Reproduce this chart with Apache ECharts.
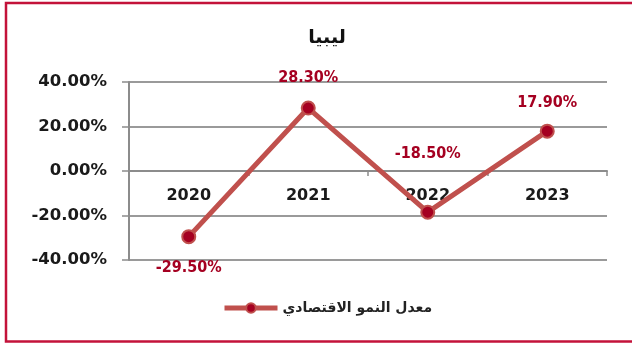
<!DOCTYPE html>
<html>
<head>
<meta charset="utf-8">
<script src="https://cdn.jsdelivr.net/npm/echarts@6/dist/echarts.min.js"></script>
<style>
  html, body { margin: 0; padding: 0; background: #fff; }
  #chart { width: 632px; height: 343px; }
</style>
</head>
<body>
<div id="chart"></div>
<script>
// Libya: annual economic growth rate (%)
const years = ['2020', '2021', '2022', '2023'];
const growthRate = [-29.5, 28.3, -18.5, 17.9];
const yTicks = [-40, -20, 0, 20, 40];
const chartTitle = 'ليبيا';
const seriesName = 'معدل النمو الاقتصادي';

// label placement for each point (above or below the marker)
const labelPlacement = [
  { position: 'bottom', distance: 16 },
  { position: 'top', distance: 15 },
  { position: 'top', distance: 43 },
  { position: 'top', distance: 13 }
];

const AXIS_FONT = '"DejaVu Sans", sans-serif';
const LABEL_FONT = '"DejaVu Sans Condensed", "DejaVu Sans", sans-serif';
const LABEL_RED = '#A50021';
const LINE_RED = '#C0504D';

const GRID_TOP = 82, GRID_BOTTOM = 83, PLOT_H = 343 - GRID_TOP - GRID_BOTTOM;
// the category axis sits on the zero line of the value axis
const zeroOffset = -PLOT_H * (0 - yTicks[0]) / (yTicks[yTicks.length - 1] - yTicks[0]);

const chart = echarts.init(document.getElementById('chart'), null, { renderer: 'canvas' });

chart.setOption({
  backgroundColor: '#ffffff',
  animation: false,
  title: {
    text: chartTitle,
    left: 322,
    top: 24,
    textAlign: 'center',
    textStyle: { fontFamily: AXIS_FONT, fontWeight: 'bold', fontSize: 19, color: '#111' }
  },
  grid: { left: 129, right: 25, top: GRID_TOP, bottom: GRID_BOTTOM, containLabel: false },
  legend: {
    left: 217,
    top: 296,
    itemWidth: 53,
    itemHeight: 12,
    itemGap: 10,
    lineStyle: { width: 5, color: LINE_RED },
    textStyle: { fontFamily: AXIS_FONT, fontWeight: 'bold', fontSize: 14, color: '#222' },
    data: [seriesName]
  },
  xAxis: {
    type: 'category',
    data: years,
    boundaryGap: true,
    position: 'bottom',
    offset: zeroOffset,
    axisLine: { onZero: false, lineStyle: { color: '#8c8c8c', width: 2 } },
    axisTick: { show: true, alignWithLabel: false, length: 5, lineStyle: { color: '#8c8c8c', width: 1.5 } },
    axisLabel: { margin: 17, fontFamily: AXIS_FONT, fontWeight: 'bold', fontSize: 16, color: '#1a1a1a' },
    splitLine: { show: false }
  },
  yAxis: {
    type: 'value',
    min: yTicks[0],
    max: yTicks[yTicks.length - 1],
    interval: 20,
    axisLine: { show: true, lineStyle: { color: '#8c8c8c', width: 2 } },
    axisTick: { show: true, length: 7, lineStyle: { color: '#8c8c8c', width: 1.5 } },
    axisLabel: {
      margin: 22,
      fontFamily: AXIS_FONT, fontWeight: 'bold', fontSize: 16.5, color: '#1a1a1a',
      formatter: v => v.toFixed(2) + '%'
    },
    splitLine: { show: true, lineStyle: { color: '#9a9a9a', width: 2 } }
  },
  graphic: [{
    type: 'polyline',
    shape: { points: [[640, 3], [6, 3], [6, 341.5], [640, 341.5]] },
    style: { stroke: '#C3123A', lineWidth: 2.5, fill: null },
    silent: true
  }],
  series: [{
    name: seriesName,
    type: 'line',
    data: growthRate.map((v, i) => ({
      value: v,
      label: labelPlacement[i]
    })),
    symbol: 'circle',
    symbolSize: 13,
    lineStyle: { color: LINE_RED, width: 5 },
    itemStyle: { color: LABEL_RED, borderColor: LINE_RED, borderWidth: 2 },
    label: {
      show: true,
      fontFamily: LABEL_FONT, fontWeight: 'bold', fontSize: 16, color: LABEL_RED,
      formatter: p => p.value.toFixed(2) + '%'
    },
    z: 5
  }]
});
</script>
</body>
</html>
